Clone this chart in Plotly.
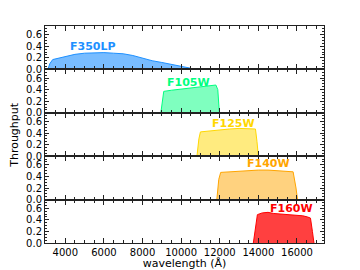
import plotly.graph_objects as go
from plotly.subplots import make_subplots

filters = ["F350LP", "F105W", "F125W", "F140W", "F160W"]

w_f350lp = [3100, 3200, 3350, 3700, 4000, 4500, 5000, 5500, 6000, 6500, 7000, 7500, 8000, 8500, 9000, 9500, 10000, 10500]
t_f350lp = [0.0, 0.10, 0.17, 0.20, 0.22, 0.26, 0.28, 0.29, 0.29, 0.28, 0.27, 0.24, 0.19, 0.15, 0.12, 0.09, 0.05, 0.02]

w_f105w = [8950, 9050, 9100, 9500, 10000, 10500, 11000, 11500, 11800, 11900, 11980]
t_f105w = [0.0, 0.30, 0.37, 0.39, 0.41, 0.43, 0.45, 0.47, 0.48, 0.40, 0.0]

w_f125w = [10820, 10920, 11000, 11500, 12000, 12500, 13000, 13500, 13850, 13930, 14000]
t_f125w = [0.0, 0.30, 0.42, 0.44, 0.46, 0.47, 0.48, 0.48, 0.47, 0.25, 0.0]

w_f140w = [11850, 11950, 12050, 12500, 13000, 13500, 14000, 14500, 15000, 15500, 15800, 15950, 16030]
t_f140w = [0.0, 0.35, 0.47, 0.48, 0.49, 0.50, 0.51, 0.51, 0.50, 0.49, 0.48, 0.20, 0.0]

w_f160w = [13740, 13880, 13950, 14200, 14500, 14800, 15200, 15600, 16000, 16300, 16550, 16700, 16800, 16880]
t_f160w = [0.0, 0.30, 0.49, 0.52, 0.53, 0.51, 0.50, 0.50, 0.49, 0.47, 0.45, 0.43, 0.20, 0.0]

x_ticks = [4000, 6000, 8000, 10000, 12000, 14000, 16000]
y_ticks = [0.0, 0.2, 0.4, 0.6]

label_x = [5450, 10360, 12700, 14500, 15740]
label_y = [0.40, 0.53, 0.57, 0.62, 0.59]

line_colors = ["#1e90ff", "#00ff7f", "#ffd700", "#ffa500", "#ff0000"]
fill_colors = ["rgba(30,144,255,0.6)", "rgba(0,255,127,0.5)", "rgba(255,215,0,0.5)",
               "rgba(255,165,0,0.5)", "rgba(255,0,0,0.75)"]

waves = [w_f350lp, w_f105w, w_f125w, w_f140w, w_f160w]
thrus = [t_f350lp, t_f105w, t_f125w, t_f140w, t_f160w]

fig = make_subplots(rows=5, cols=1, shared_xaxes=True, vertical_spacing=0)

font = "DejaVu Sans"
for i in range(5):
    fig.add_trace(go.Scatter(x=waves[i], y=thrus[i], mode="lines", fill="tozeroy",
                             line=dict(color=line_colors[i], width=1),
                             fillcolor=fill_colors[i], showlegend=False, hoverinfo="skip"),
                  row=i + 1, col=1)
    fig.add_annotation(x=label_x[i], y=label_y[i], text="<b>%s</b>" % filters[i],
                       showarrow=False, font=dict(family=font, size=11, color=line_colors[i]),
                       row=i + 1, col=1)

axcolor = "#222222"
for i in range(5):
    fig.update_yaxes(range=[0, 0.75], tickvals=y_ticks,
                     ticktext=["%.1f" % v for v in y_ticks],
                     ticks="inside", ticklen=4, tickcolor=axcolor, tickwidth=1,
                     minor=dict(dtick=0.05, ticks="inside", ticklen=2, tickcolor=axcolor),
                     showline=True, linecolor=axcolor, linewidth=1, mirror="allticks",
                     showgrid=False, zeroline=False, automargin=False,
                     tickfont=dict(family=font, size=10, color="black"),
                     row=i + 1, col=1)
    fig.update_xaxes(range=[2950, 17400], tickvals=x_ticks,
                     ticktext=[str(v) for v in x_ticks],
                     ticks="inside", ticklen=5, tickcolor=axcolor, tickwidth=1,
                     minor=dict(dtick=500, ticks="inside", ticklen=3, tickcolor=axcolor),
                     showline=True, linecolor=axcolor, linewidth=1, mirror="allticks",
                     showgrid=False, zeroline=False, automargin=False,
                     showticklabels=(i == 4),
                     tickfont=dict(family=font, size=10, color="black"),
                     row=i + 1, col=1)

fig.update_xaxes(title=dict(text="wavelength (Å)", font=dict(family=font, size=11, color="black"),
                            standoff=2), row=5, col=1)

fig.add_annotation(text="Throughput", xref="paper", yref="paper", x=-0.11, y=0.5,
                   xanchor="center", yanchor="middle", textangle=-90, showarrow=False,
                   font=dict(family=font, size=11, color="black"))

fig.update_layout(width=360, height=270, margin=dict(l=45, r=36, t=26, b=27),
                  paper_bgcolor="white", plot_bgcolor="white", hovermode=False,
                  font=dict(family=font, size=10, color="black"))

fig.write_html("out.html", config={"displayModeBar": False},
               post_script="document.body.style.margin='0px';")
